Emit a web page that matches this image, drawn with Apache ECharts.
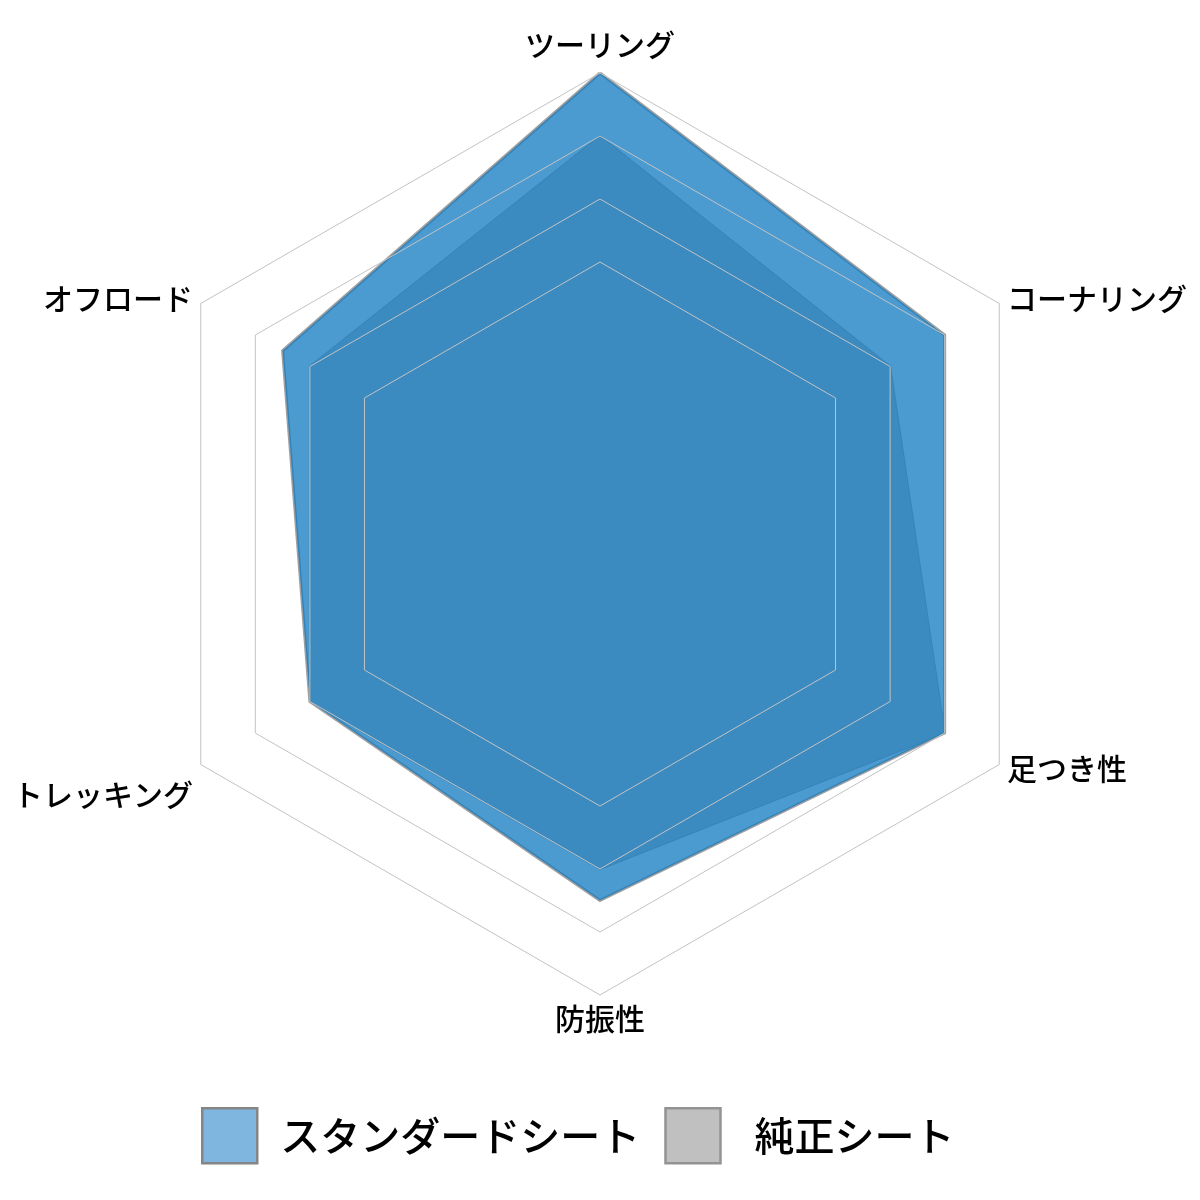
<!DOCTYPE html>
<html>
<head>
<meta charset="utf-8">
<script src="https://cdn.jsdelivr.net/npm/echarts@6/dist/echarts.min.js"></script>
<style>
html,body{margin:0;padding:0;background:#fff;}
#chart{width:1200px;height:1200px;}
</style>
</head>
<body>
<div id="chart"></div>
<script>
// Indicators in drawing order (top first, then counter-clockwise)
const categories = ['ツーリング', 'オフロード', 'トレッキング', '防振性', '足つき性', 'コーナリング'];
const seriesNames = ['スタンダードシート', '純正シート'];
const standardSeat = [5, 3.5, 3, 3.5, 4, 4];
const stockSeat = [4, 3, 3, 3, 4, 3];
const scaleMin = 2;
const scaleMax = 5;

const chart = echarts.init(document.getElementById('chart'));
const font = "'Noto Sans CJK JP', 'Noto Sans', sans-serif";

chart.setOption({
  backgroundColor: '#ffffff',
  animation: false,
  textStyle: { fontFamily: font },
  legend: {
    data: [
      { name: seriesNames[0], icon: 'rect',
        itemStyle: { color: '#7fb6df', borderColor: '#858585', borderWidth: 2.5 },
        textStyle: { fontSize: 40, color: '#000', fontFamily: font, fontWeight: 500, padding: [0, 0, 0, 18] } },
      { name: seriesNames[1], icon: 'rect',
        itemStyle: { color: '#c0c0c0', borderColor: '#939393', borderWidth: 2.5 },
        textStyle: { fontSize: 40, color: '#000', fontFamily: font, fontWeight: 500, padding: [0, 0, 0, 29] } }
    ],
    left: 196,
    top: 1102,
    itemWidth: 55,
    itemHeight: 55,
    itemGap: 24,
    textStyle: { fontSize: 40, color: '#000', fontFamily: font, fontWeight: 500 }
  },
  radar: {
    center: [600, 534],
    radius: [272, 461],
    startAngle: 90,
    splitNumber: 3,
    shape: 'polygon',
    z: 5,
    indicator: categories.map(function (c) { return { name: c, min: scaleMin, max: scaleMax }; }),
    nameGap: 9,
    axisName: {
      color: '#000',
      fontSize: 30,
      fontFamily: font,
      fontWeight: 500,
      formatter: function (name) {
        if (name === 'トレッキング') return '{d|' + name + '}';
        if (name === 'ツーリング') return '{t|' + name + '}';
        return '{n|' + name + '}';
      },
      rich: {
        n: { fontSize: 30, color: '#000', fontFamily: font, fontWeight: 500 },
        t: { fontSize: 30, color: '#000', fontFamily: font, fontWeight: 500, padding: [0, 0, 4, 0] },
        d: { fontSize: 30, color: '#000', fontFamily: font, fontWeight: 500, padding: [52, 0, 0, 0] }
      }
    },
    axisLine: { show: false },
    axisTick: { show: false },
    axisLabel: { show: false },
    splitArea: { show: false },
    splitLine: { lineStyle: { color: '#c3c3c3', width: 1 } }
  },
  series: [
    {
      type: 'radar',
      name: seriesNames[1],
      z: 1,
      symbol: 'none',
      data: [{
        name: seriesNames[1],
        value: stockSeat,
        lineStyle: { color: '#a6a6a6', width: 2 },
        areaStyle: { color: 'rgb(191,186,188)', opacity: 1 },
        itemStyle: { color: '#c0c0c0' }
      }]
    },
    {
      type: 'radar',
      name: seriesNames[0],
      z: 2,
      symbol: 'none',
      data: [{
        name: seriesNames[0],
        value: standardSeat,
        lineStyle: { color: '#a0a0a0', width: 3 },
        areaStyle: { color: 'rgb(15,122,194)', opacity: 0.75 },
        itemStyle: { color: '#7fb6df' }
      }]
    }
  ]
});
</script>
</body>
</html>
